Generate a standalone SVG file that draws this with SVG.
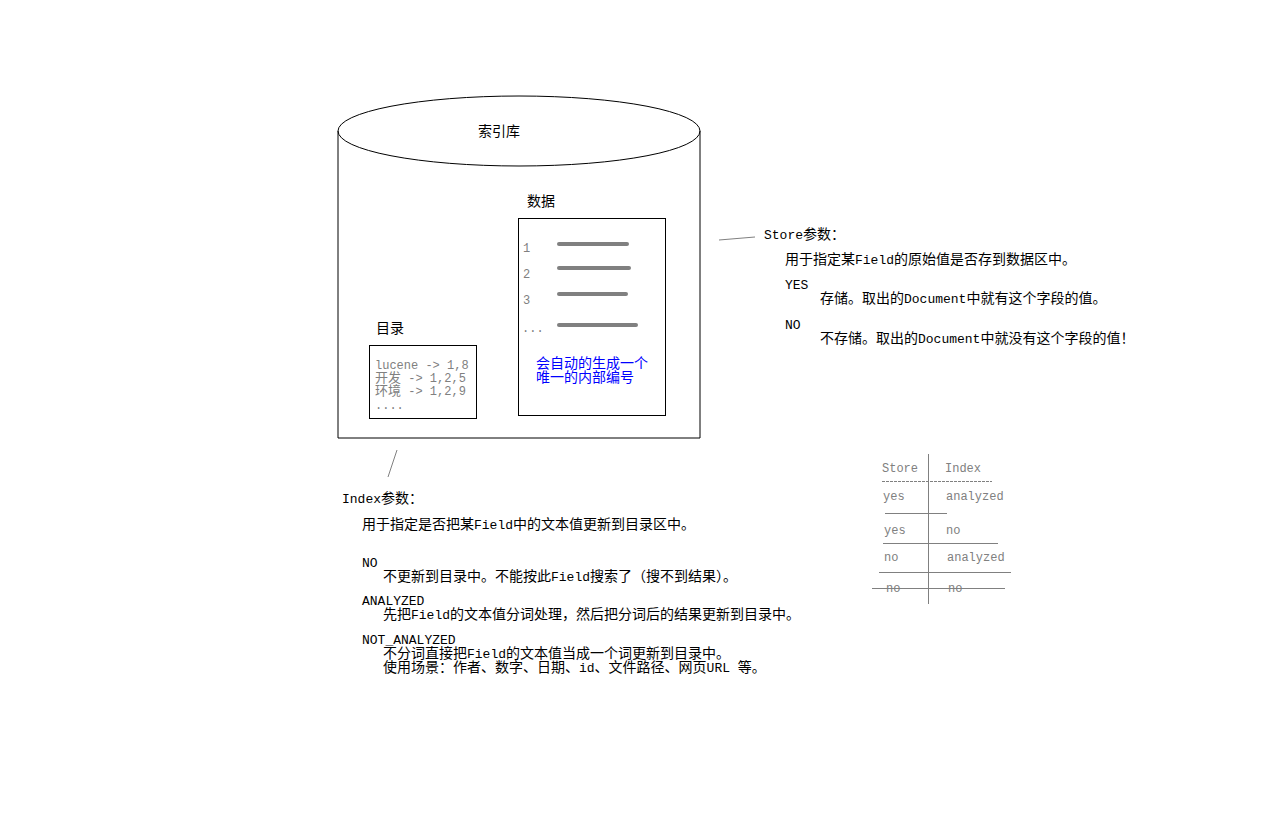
<svg xmlns="http://www.w3.org/2000/svg" width="1270" height="838" viewBox="0 0 1270 838">
<style>
text{font-family:"Liberation Mono","Noto Sans CJK SC",monospace;font-size:14px;fill:#000}
.a{font-size:13px}
.s{font-size:12px}
.g{fill:#808080}
.b{fill:#0000ff}
.bar{stroke:#808080;stroke-width:4;stroke-linecap:round}
.thin{stroke:#808080;stroke-width:1;fill:none}
.blk{stroke:#000;stroke-width:1;fill:none}
</style>
<rect width="1270" height="838" fill="#fff"/>
<g id="cylinder">
<path class="blk" d="M338,131 L338,438 L700,438 L700,131"/>
<ellipse class="blk" cx="519" cy="131" rx="181" ry="35" fill="#fff"/>
<text x="478" y="136">索引库</text>
</g>
<g id="data">
<text x="527" y="206">数据</text>
<rect class="blk" x="518.5" y="218.5" width="147" height="197"/>
<text class="g s" x="523" y="252">1</text>
<text class="g s" x="523" y="278">2</text>
<text class="g s" x="523" y="304">3</text>
<text class="g s" x="522" y="332">...</text>
<line class="bar" x1="559" y1="244" x2="627" y2="244"/>
<line class="bar" x1="559" y1="268" x2="629" y2="268"/>
<line class="bar" x1="559" y1="294" x2="626" y2="294"/>
<line class="bar" x1="559" y1="325" x2="636" y2="325"/>
<text class="b" x="536" y="368">会自动的生成一个</text>
<text class="b" x="536" y="382">唯一的内部编号</text>
</g>
<g id="catalog">
<text x="376" y="333">目录</text>
<rect class="blk" x="369.5" y="345.5" width="107" height="73"/>
<text class="g s" x="375" y="369">lucene -&gt; 1,8</text>
<text class="g s" x="375" y="382"><tspan class="a">开发</tspan> -&gt; 1,2,5</text>
<text class="g s" x="375" y="395"><tspan class="a">环境</tspan> -&gt; 1,2,9</text>
<text class="g s" x="375" y="409">....</text>
</g>
<g id="connectors">
<line class="thin" x1="719" y1="240" x2="755" y2="237"/>
<line class="thin" x1="397" y1="450" x2="388" y2="477"/>
</g>
<g id="store-note">
<text x="764" y="239"><tspan class="a">Store</tspan>参数：</text>
<text x="785" y="264">用于指定某<tspan class="a">Field</tspan>的原始值是否存到数据区中。</text>
<text class="a" x="785" y="289">YES</text>
<text x="820" y="303">存储。取出的<tspan class="a">Document</tspan>中就有这个字段的值。</text>
<text class="a" x="785" y="329">NO</text>
<text x="820" y="343">不存储。取出的<tspan class="a">Document</tspan>中就没有这个字段的值！</text>
</g>
<g id="index-note">
<text x="342" y="503"><tspan class="a">Index</tspan>参数：</text>
<text x="362" y="529">用于指定是否把某<tspan class="a">Field</tspan>中的文本值更新到目录区中。</text>
<text class="a" x="362" y="567">NO</text>
<text x="383" y="581">不更新到目录中。不能按此<tspan class="a">Field</tspan>搜索了（搜不到结果）。</text>
<text class="a" x="362" y="605">ANALYZED</text>
<text x="383" y="619">先把<tspan class="a">Field</tspan>的文本值分词处理，然后把分词后的结果更新到目录中。</text>
<text class="a" x="362" y="644">NOT_ANALYZED</text>
<text x="383" y="658">不分词直接把<tspan class="a">Field</tspan>的文本值当成一个词更新到目录中。</text>
<text x="383" y="672">使用场景：作者、数字、日期、<tspan class="a">id</tspan>、文件路径、网页<tspan class="a">URL </tspan>等。</text>
</g>
<g id="table">
<line class="thin" x1="928.5" y1="454" x2="928.5" y2="604"/>
<text class="g s" x="882" y="472">Store</text>
<text class="g s" x="945" y="472">Index</text>
<line class="thin" x1="882" y1="481.5" x2="992" y2="481.5" stroke-dasharray="3,1"/>
<text class="g s" x="883" y="500">yes</text>
<text class="g s" x="946" y="500">analyzed</text>
<line class="thin" x1="885" y1="513.5" x2="947" y2="513.5"/>
<text class="g s" x="884" y="534">yes</text>
<text class="g s" x="946" y="534">no</text>
<line class="thin" x1="883" y1="543.5" x2="998" y2="543.5"/>
<text class="g s" x="884" y="561">no</text>
<text class="g s" x="947" y="561">analyzed</text>
<line class="thin" x1="879" y1="572.5" x2="1011" y2="572.5"/>
<text class="g s" x="886" y="592">no</text>
<text class="g s" x="948" y="592">no</text>
<line class="thin" x1="872" y1="588.5" x2="1005" y2="588.5"/>
</g>
</svg>
